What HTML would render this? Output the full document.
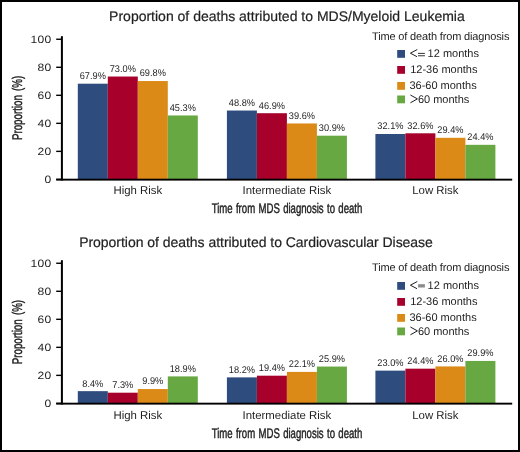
<!DOCTYPE html>
<html><head><meta charset="utf-8"><style>
html,body{margin:0;padding:0;background:#fff;}
body{width:520px;height:452px;overflow:hidden;}
svg{display:block;text-rendering:geometricPrecision;-webkit-font-smoothing:antialiased;will-change:transform;font-family:"Liberation Sans",sans-serif;}
</style></head><body>
<svg width="520" height="452" viewBox="0 0 520 452">
<rect x="0" y="0" width="520" height="452" fill="#000"/>
<rect x="2" y="2" width="516" height="448" fill="#fff"/>
<text x="109.1" y="21.0" font-size="14" letter-spacing="0" fill="#1e1e1e" stroke="#1e1e1e" stroke-width="0.2">Proportion of deaths attributed to MDS/Myeloid Leukemia</text>
<text transform="translate(21.8,107.9) rotate(-90) scale(0.695,1)" text-anchor="middle" font-size="14" word-spacing="2.2" fill="#1e1e1e" stroke="#1e1e1e" stroke-width="0.45">Proportion (%)</text>
<rect x="56.2" y="178.70" width="5" height="1.4" fill="#000"/>
<text transform="translate(51.6,183.20) scale(1.14,1)" text-anchor="end" font-size="10.6" letter-spacing="0.3" fill="#1e1e1e">0</text>
<rect x="56.2" y="150.67" width="5" height="1.4" fill="#000"/>
<text transform="translate(51.6,155.17) scale(1.14,1)" text-anchor="end" font-size="10.6" letter-spacing="0.3" fill="#1e1e1e">20</text>
<rect x="56.2" y="122.64" width="5" height="1.4" fill="#000"/>
<text transform="translate(51.6,127.14) scale(1.14,1)" text-anchor="end" font-size="10.6" letter-spacing="0.3" fill="#1e1e1e">40</text>
<rect x="56.2" y="94.61" width="5" height="1.4" fill="#000"/>
<text transform="translate(51.6,99.11) scale(1.14,1)" text-anchor="end" font-size="10.6" letter-spacing="0.3" fill="#1e1e1e">60</text>
<rect x="56.2" y="66.58" width="5" height="1.4" fill="#000"/>
<text transform="translate(51.6,71.08) scale(1.14,1)" text-anchor="end" font-size="10.6" letter-spacing="0.3" fill="#1e1e1e">80</text>
<rect x="56.2" y="38.55" width="5" height="1.4" fill="#000"/>
<text transform="translate(51.6,43.05) scale(1.14,1)" text-anchor="end" font-size="10.6" letter-spacing="0.3" fill="#1e1e1e">100</text>
<rect x="77.80" y="83.70" width="30.00" height="95.90" fill="#2e4c7e"/>
<text transform="translate(92.80,79.10) scale(0.94,1)" text-anchor="middle" font-size="9.8" fill="#1e1e1e">67.9%</text>
<rect x="107.80" y="76.53" width="30.00" height="103.06" fill="#a6002b"/>
<text transform="translate(122.80,71.94) scale(0.94,1)" text-anchor="middle" font-size="9.8" fill="#1e1e1e">73.0%</text>
<rect x="137.80" y="81.03" width="30.00" height="98.57" fill="#db8a17"/>
<text transform="translate(152.80,76.43) scale(0.94,1)" text-anchor="middle" font-size="9.8" fill="#1e1e1e">69.8%</text>
<rect x="167.80" y="115.45" width="30.00" height="64.15" fill="#68a842"/>
<text transform="translate(182.80,110.85) scale(0.94,1)" text-anchor="middle" font-size="9.8" fill="#1e1e1e">45.3%</text>
<rect x="226.90" y="110.54" width="30.00" height="69.06" fill="#2e4c7e"/>
<text transform="translate(241.90,105.94) scale(0.94,1)" text-anchor="middle" font-size="9.8" fill="#1e1e1e">48.8%</text>
<rect x="256.90" y="113.21" width="30.00" height="66.39" fill="#a6002b"/>
<text transform="translate(271.90,108.61) scale(0.94,1)" text-anchor="middle" font-size="9.8" fill="#1e1e1e">46.9%</text>
<rect x="286.90" y="123.46" width="30.00" height="56.14" fill="#db8a17"/>
<text transform="translate(301.90,118.86) scale(0.94,1)" text-anchor="middle" font-size="9.8" fill="#1e1e1e">39.6%</text>
<rect x="316.90" y="135.69" width="30.00" height="43.91" fill="#68a842"/>
<text transform="translate(331.90,131.09) scale(0.94,1)" text-anchor="middle" font-size="9.8" fill="#1e1e1e">30.9%</text>
<rect x="375.40" y="134.00" width="30.00" height="45.60" fill="#2e4c7e"/>
<text transform="translate(390.40,129.40) scale(0.94,1)" text-anchor="middle" font-size="9.8" fill="#1e1e1e">32.1%</text>
<rect x="405.40" y="133.30" width="30.00" height="46.30" fill="#a6002b"/>
<text transform="translate(420.40,128.70) scale(0.94,1)" text-anchor="middle" font-size="9.8" fill="#1e1e1e">32.6%</text>
<rect x="435.40" y="137.79" width="30.00" height="41.81" fill="#db8a17"/>
<text transform="translate(450.40,133.19) scale(0.94,1)" text-anchor="middle" font-size="9.8" fill="#1e1e1e">29.4%</text>
<rect x="465.40" y="144.82" width="30.00" height="34.78" fill="#68a842"/>
<text transform="translate(480.40,140.22) scale(0.94,1)" text-anchor="middle" font-size="9.8" fill="#1e1e1e">24.4%</text>
<rect x="60.9" y="36.2" width="2" height="144.3" fill="#000"/>
<rect x="56.2" y="178.7" width="456.00000000000006" height="1.9" fill="#000"/>
<text x="137.80" y="193.8" text-anchor="middle" font-size="11.4" fill="#1e1e1e">High Risk</text>
<text x="286.90" y="193.8" text-anchor="middle" font-size="11.4" fill="#1e1e1e">Intermediate Risk</text>
<text x="435.40" y="193.8" text-anchor="middle" font-size="11.4" fill="#1e1e1e">Low Risk</text>
<text transform="translate(287,213.3) scale(0.685,1)" text-anchor="middle" font-size="14" word-spacing="1.0" fill="#1e1e1e" stroke="#1e1e1e" stroke-width="0.45">Time from MDS diagnosis to death</text>
<text x="372" y="39.5" font-size="11" letter-spacing="-0.15" fill="#1e1e1e">Time of death from diagnosis</text>
<rect x="397.2" y="50" width="7.8" height="7.8" fill="#2e4c7e"/>
<rect x="397.2" y="66" width="7.8" height="7.8" fill="#a6002b"/>
<rect x="397.2" y="82" width="7.8" height="7.8" fill="#db8a17"/>
<rect x="397.2" y="95.5" width="7.8" height="7.8" fill="#68a842"/>
<path d="M417.3 49.5 L410.4 53.2 L417.0 56.7" fill="none" stroke="#1e1e1e" stroke-width="1.0"/>
<rect x="418.0" y="52.9" width="6.9" height="0.95" fill="#2a2a2a"/>
<rect x="418.0" y="55.3" width="6.9" height="0.95" fill="#2a2a2a"/>
<text x="427.6" y="57.3" font-size="11" fill="#1e1e1e">12 months</text>
<text x="410.2" y="72.8" font-size="11" fill="#1e1e1e">12-36 months</text>
<text x="409.4" y="88.6" font-size="11" fill="#1e1e1e">36-60 months</text>
<path d="M410.4 95.0 L417.4 98.9 L410.4 102.8" fill="none" stroke="#1e1e1e" stroke-width="1.0"/>
<text x="417.9" y="102.6" font-size="11" fill="#1e1e1e">60 months</text>
<text x="79.2" y="247.0" font-size="14" letter-spacing="-0.035" fill="#1e1e1e" stroke="#1e1e1e" stroke-width="0.2">Proportion of deaths attributed to Cardiovascular Disease</text>
<text transform="translate(21.8,332.1) rotate(-90) scale(0.695,1)" text-anchor="middle" font-size="14" word-spacing="2.2" fill="#1e1e1e" stroke="#1e1e1e" stroke-width="0.45">Proportion (%)</text>
<rect x="56.2" y="402.70" width="5" height="1.4" fill="#000"/>
<text transform="translate(51.6,407.20) scale(1.14,1)" text-anchor="end" font-size="10.6" letter-spacing="0.3" fill="#1e1e1e">0</text>
<rect x="56.2" y="374.67" width="5" height="1.4" fill="#000"/>
<text transform="translate(51.6,379.17) scale(1.14,1)" text-anchor="end" font-size="10.6" letter-spacing="0.3" fill="#1e1e1e">20</text>
<rect x="56.2" y="346.64" width="5" height="1.4" fill="#000"/>
<text transform="translate(51.6,351.14) scale(1.14,1)" text-anchor="end" font-size="10.6" letter-spacing="0.3" fill="#1e1e1e">40</text>
<rect x="56.2" y="318.61" width="5" height="1.4" fill="#000"/>
<text transform="translate(51.6,323.11) scale(1.14,1)" text-anchor="end" font-size="10.6" letter-spacing="0.3" fill="#1e1e1e">60</text>
<rect x="56.2" y="290.58" width="5" height="1.4" fill="#000"/>
<text transform="translate(51.6,295.08) scale(1.14,1)" text-anchor="end" font-size="10.6" letter-spacing="0.3" fill="#1e1e1e">80</text>
<rect x="56.2" y="262.55" width="5" height="1.4" fill="#000"/>
<text transform="translate(51.6,267.05) scale(1.14,1)" text-anchor="end" font-size="10.6" letter-spacing="0.3" fill="#1e1e1e">100</text>
<rect x="77.80" y="391.15" width="30.00" height="12.30" fill="#2e4c7e"/>
<text transform="translate(92.80,386.55) scale(0.94,1)" text-anchor="middle" font-size="9.8" fill="#1e1e1e">8.4%</text>
<rect x="107.80" y="392.69" width="30.00" height="10.76" fill="#a6002b"/>
<text transform="translate(122.80,388.09) scale(0.94,1)" text-anchor="middle" font-size="9.8" fill="#1e1e1e">7.3%</text>
<rect x="137.80" y="389.04" width="30.00" height="14.41" fill="#db8a17"/>
<text transform="translate(152.80,384.44) scale(0.94,1)" text-anchor="middle" font-size="9.8" fill="#1e1e1e">9.9%</text>
<rect x="167.80" y="376.40" width="30.00" height="27.05" fill="#68a842"/>
<text transform="translate(182.80,371.80) scale(0.94,1)" text-anchor="middle" font-size="9.8" fill="#1e1e1e">18.9%</text>
<rect x="226.90" y="377.38" width="30.00" height="26.07" fill="#2e4c7e"/>
<text transform="translate(241.90,372.78) scale(0.94,1)" text-anchor="middle" font-size="9.8" fill="#1e1e1e">18.2%</text>
<rect x="256.90" y="375.69" width="30.00" height="27.76" fill="#a6002b"/>
<text transform="translate(271.90,371.09) scale(0.94,1)" text-anchor="middle" font-size="9.8" fill="#1e1e1e">19.4%</text>
<rect x="286.90" y="371.90" width="30.00" height="31.55" fill="#db8a17"/>
<text transform="translate(301.90,367.30) scale(0.94,1)" text-anchor="middle" font-size="9.8" fill="#1e1e1e">22.1%</text>
<rect x="316.90" y="366.56" width="30.00" height="36.89" fill="#68a842"/>
<text transform="translate(331.90,361.96) scale(0.94,1)" text-anchor="middle" font-size="9.8" fill="#1e1e1e">25.9%</text>
<rect x="375.40" y="370.63" width="30.00" height="32.81" fill="#2e4c7e"/>
<text transform="translate(390.40,366.03) scale(0.94,1)" text-anchor="middle" font-size="9.8" fill="#1e1e1e">23.0%</text>
<rect x="405.40" y="368.67" width="30.00" height="34.78" fill="#a6002b"/>
<text transform="translate(420.40,364.07) scale(0.94,1)" text-anchor="middle" font-size="9.8" fill="#1e1e1e">24.4%</text>
<rect x="435.40" y="366.42" width="30.00" height="37.03" fill="#db8a17"/>
<text transform="translate(450.40,361.82) scale(0.94,1)" text-anchor="middle" font-size="9.8" fill="#1e1e1e">26.0%</text>
<rect x="465.40" y="360.94" width="30.00" height="42.51" fill="#68a842"/>
<text transform="translate(480.40,356.34) scale(0.94,1)" text-anchor="middle" font-size="9.8" fill="#1e1e1e">29.9%</text>
<rect x="60.9" y="260.2" width="2" height="144.3" fill="#000"/>
<rect x="56.2" y="402.7" width="456.00000000000006" height="1.9" fill="#000"/>
<text x="137.80" y="418.8" text-anchor="middle" font-size="11.4" fill="#1e1e1e">High Risk</text>
<text x="286.90" y="418.8" text-anchor="middle" font-size="11.4" fill="#1e1e1e">Intermediate Risk</text>
<text x="435.40" y="418.8" text-anchor="middle" font-size="11.4" fill="#1e1e1e">Low Risk</text>
<text transform="translate(287,438.3) scale(0.685,1)" text-anchor="middle" font-size="14" word-spacing="1.0" fill="#1e1e1e" stroke="#1e1e1e" stroke-width="0.45">Time from MDS diagnosis to death</text>
<text x="372" y="271.0" font-size="11" letter-spacing="-0.15" fill="#1e1e1e">Time of death from diagnosis</text>
<rect x="397.2" y="282" width="7.8" height="7.8" fill="#2e4c7e"/>
<rect x="397.2" y="298" width="7.8" height="7.8" fill="#a6002b"/>
<rect x="397.2" y="314" width="7.8" height="7.8" fill="#db8a17"/>
<rect x="397.2" y="327.5" width="7.8" height="7.8" fill="#68a842"/>
<path d="M417.3 281.5 L410.4 285.2 L417.0 288.7" fill="none" stroke="#1e1e1e" stroke-width="1.0"/>
<rect x="418.1" y="284.2" width="6.8" height="3.3" fill="#8a8a8a"/>
<text x="427.6" y="289.3" font-size="11" fill="#1e1e1e">12 months</text>
<text x="410.2" y="304.8" font-size="11" fill="#1e1e1e">12-36 months</text>
<text x="409.4" y="320.6" font-size="11" fill="#1e1e1e">36-60 months</text>
<path d="M410.4 327.0 L417.4 330.9 L410.4 334.8" fill="none" stroke="#1e1e1e" stroke-width="1.0"/>
<text x="417.9" y="334.6" font-size="11" fill="#1e1e1e">60 months</text>
</svg>
</body></html>
